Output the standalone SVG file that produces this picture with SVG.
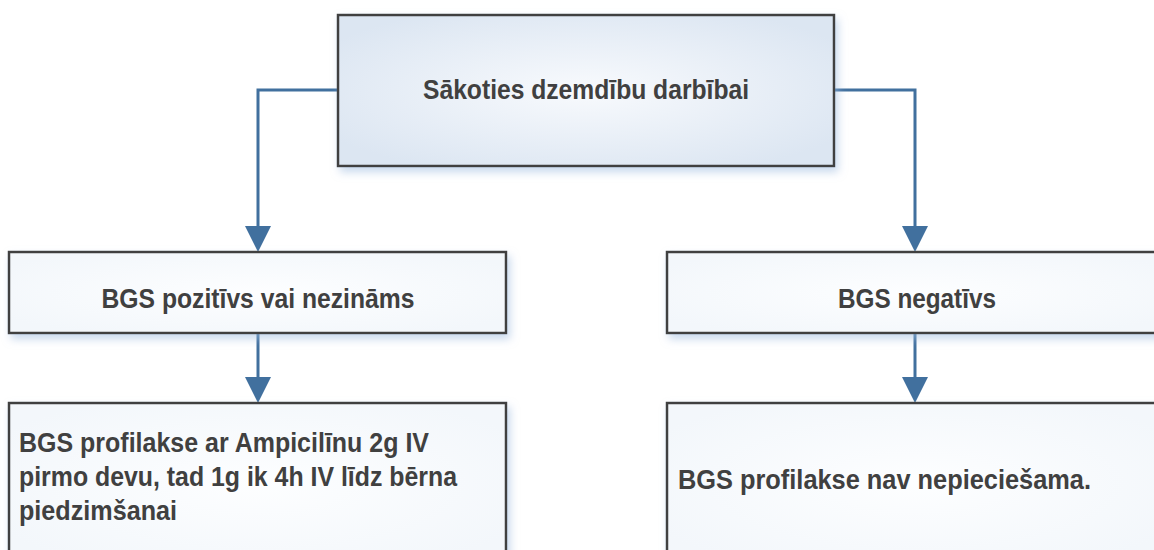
<svg xmlns="http://www.w3.org/2000/svg" width="1154" height="550" viewBox="0 0 1154 550">
  <defs>
    <radialGradient id="gTop" cx="50%" cy="50%" r="60%">
      <stop offset="0" stop-color="#f8fafd"/>
      <stop offset="1" stop-color="#dce6f2"/>
    </radialGradient>
    <radialGradient id="gBox" cx="50%" cy="50%" r="60%">
      <stop offset="0" stop-color="#fdfeff"/>
      <stop offset="1" stop-color="#f3f7fb"/>
    </radialGradient>
    <filter id="shadow" x="-10%" y="-10%" width="120%" height="130%">
      <feDropShadow dx="3" dy="5" stdDeviation="4" flood-color="#9fbbe0" flood-opacity="0.55"/>
    </filter>
    <marker id="arrow" markerUnits="userSpaceOnUse" markerWidth="26" markerHeight="26" viewBox="0 0 26 26" refX="22" refY="13" orient="auto">
      <path d="M0,0 L26,13 L0,26 Z" fill="#41709e"/>
    </marker>
    <style>
      .box { stroke: #404040; stroke-width: 2.5; filter: url(#shadow); }
      .top { fill: url(#gTop); }
      .plain { fill: url(#gBox); }
      .lbl { font-family: "Liberation Sans", Arial, sans-serif; font-weight: bold; font-size: 27px; fill: #404040; }
      .conn { fill: none; stroke: #41709e; stroke-width: 3; marker-end: url(#arrow); }
    </style>
  </defs>
  <rect width="1154" height="550" fill="#ffffff"/>

  <g id="connectors">
    <path class="conn" d="M338,90 H258 V248"/>
    <path class="conn" d="M834,90 H915 V248"/>
    <path class="conn" d="M258,333 V399"/>
    <path class="conn" d="M915,333 V399"/>
  </g>

  <g id="node-start">
    <rect class="box top" x="338" y="15" width="496" height="151"/>
    <text class="lbl" x="586" y="99" text-anchor="middle" textLength="326" lengthAdjust="spacingAndGlyphs">Sākoties dzemdību darbībai</text>
  </g>

  <g id="node-positive">
    <rect class="box plain" x="9" y="252" width="497" height="81"/>
    <text class="lbl" x="258" y="308" text-anchor="middle" textLength="313" lengthAdjust="spacingAndGlyphs">BGS pozitīvs vai nezināms</text>
  </g>

  <g id="node-negative">
    <rect class="box plain" x="667" y="252" width="497" height="81"/>
    <text class="lbl" x="917" y="308" text-anchor="middle" textLength="158" lengthAdjust="spacingAndGlyphs">BGS negatīvs</text>
  </g>

  <g id="node-prophylaxis">
    <rect class="box plain" x="9" y="403" width="497" height="160"/>
    <text class="lbl" x="19" y="452" textLength="410" lengthAdjust="spacingAndGlyphs">BGS profilakse ar Ampicilīnu 2g IV</text>
    <text class="lbl" x="19" y="486" textLength="438" lengthAdjust="spacingAndGlyphs">pirmo devu, tad 1g ik 4h IV līdz bērna</text>
    <text class="lbl" x="19" y="520" textLength="158" lengthAdjust="spacingAndGlyphs">piedzimšanai</text>
  </g>

  <g id="node-no-prophylaxis">
    <rect class="box plain" x="667" y="403" width="497" height="160"/>
    <text class="lbl" x="678" y="489" textLength="413" lengthAdjust="spacingAndGlyphs">BGS profilakse nav nepieciešama.</text>
  </g>
</svg>
